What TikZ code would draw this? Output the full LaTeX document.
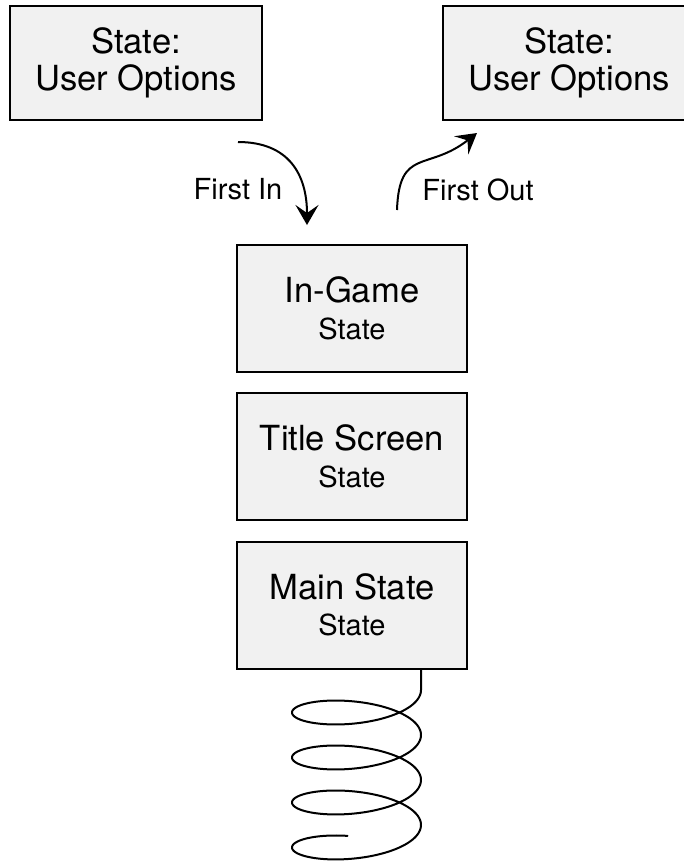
\documentclass[tikz,border=0pt]{standalone}
\usepackage{fontspec}
\setmainfont{TeX Gyre Heros}
\usepackage{tikz}
\usetikzlibrary{arrows.meta}
\definecolor{boxfill}{RGB}{241,241,241}
\newcommand{\bigtext}{\fontsize{17.3}{18.3}\selectfont}
\newcommand{\smalltext}{\fontsize{14.5}{18.3}\selectfont}
\def\statenode{\node[statebox]}

\begin{document}
\begin{tikzpicture}[x=0.5pt,y=0.5pt,
  statebox/.style={draw,line width=1pt,fill=boxfill,align=center,font=\bigtext,inner sep=0pt},
  topbox/.style={statebox,minimum width=126pt,minimum height=57pt},
  stackbox/.style={statebox,minimum width=115pt,minimum height=63.5pt},
  fifo/.style={font=\smalltext,inner sep=0pt},
  push/.style={line width=1pt,-{Stealth[length=10pt,width=11.5pt,inset=4pt]}},
  coil/.style={line width=1pt,line cap=round,line join=round}]
\useasboundingbox (0,0) rectangle (684,-864);
\statenode[topbox] (opt_in) at (136,-63) {State:\\User Options};
\statenode[topbox] (opt_out) at (569,-63) {State:\\User Options};
\statenode[stackbox] (ingame) at (352,-308.5) {In-Game\\{\smalltext State}};
\statenode[stackbox] (title) at (352,-456.5) {Title Screen\\{\smalltext State}};
\statenode[stackbox] (mainstate) at (352,-605) {Main State\\{\smalltext State}};
\node[fifo] (first_in) at (238,-189.5) {First In};
\node[fifo] (first_out) at (478,-189.5) {First Out};
\coordinate (in_start) at (238,-142);
\coordinate (in_end) at (307,-225);
\coordinate (out_start) at (397,-210);
\coordinate (out_end) at (477,-133);
\draw[push] (in_start) to[out=0,in=90,looseness=1.2] (in_end);
\draw[push] (out_start) to[out=88,in=218,looseness=1.45] (out_end);
\draw[coil] ([xshift=34.5pt]mainstate.south) -- plot[domain=0:1342,samples=400,smooth,variable=\t]
  ({356.5+64.5*cos(\t)},{-(690+0.12497*\t+22.05*sin(\t))});
\end{tikzpicture}
\end{document}
